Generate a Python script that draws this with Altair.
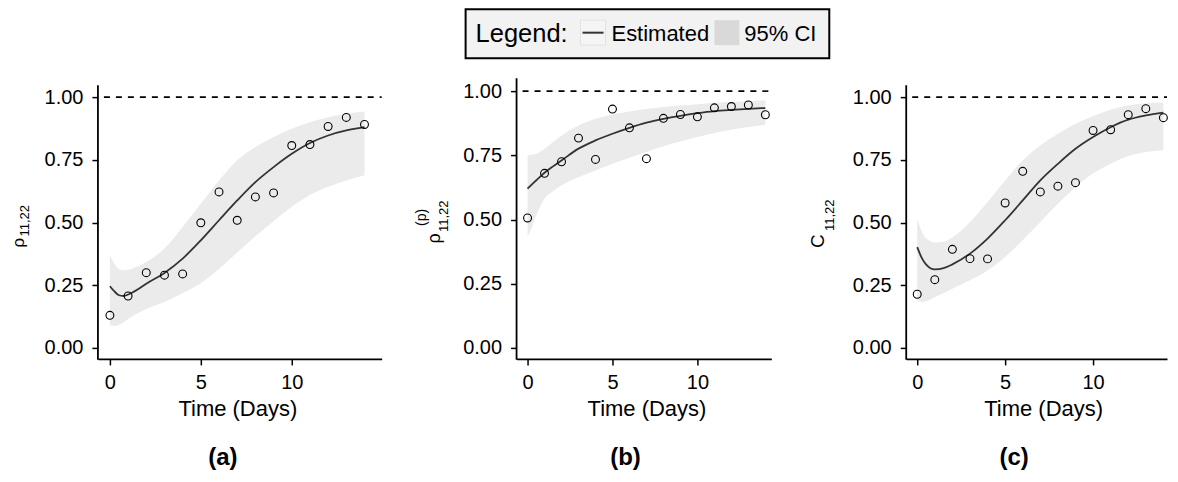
import altair as alt
import pandas as pd

FONT = "Liberation Sans"

# ---------------- data ----------------
DAYS = list(range(15))
T_CURVE = [0, 0.25, 0.5, 0.75, 1, 1.5, 2, 3, 4, 5, 6, 7, 8, 9, 10, 11, 12, 13, 14]

A_OBS = [0.130, 0.207, 0.300, 0.290, 0.295, 0.499, 0.622, 0.509, 0.602, 0.618,
         0.807, 0.811, 0.883, 0.919, 0.891]
A_EST = [0.246, 0.225, 0.210, 0.207, 0.213, 0.232, 0.256, 0.299, 0.356, 0.429,
         0.509, 0.588, 0.661, 0.721, 0.774, 0.817, 0.847, 0.867, 0.880]
A_LO = [0.090, 0.087, 0.092, 0.102, 0.115, 0.137, 0.155, 0.183, 0.218, 0.258,
        0.315, 0.380, 0.445, 0.505, 0.563, 0.610, 0.643, 0.668, 0.688]
A_HI = [0.369, 0.335, 0.315, 0.310, 0.312, 0.325, 0.343, 0.396, 0.482, 0.575,
        0.668, 0.748, 0.801, 0.841, 0.874, 0.900, 0.920, 0.934, 0.943]

B_OBS = [0.506, 0.680, 0.725, 0.817, 0.734, 0.930, 0.857, 0.737, 0.894, 0.909,
         0.900, 0.935, 0.940, 0.946, 0.908]
B_EST = [0.620, 0.636, 0.652, 0.667, 0.682, 0.707, 0.730, 0.776, 0.808, 0.834,
         0.857, 0.877, 0.892, 0.904, 0.914, 0.922, 0.927, 0.931, 0.934]
B_LO = [0.432, 0.470, 0.515, 0.552, 0.581, 0.610, 0.633, 0.665, 0.691, 0.717,
        0.741, 0.763, 0.785, 0.804, 0.821, 0.837, 0.850, 0.860, 0.869]
B_HI = [0.750, 0.752, 0.755, 0.765, 0.776, 0.802, 0.827, 0.866, 0.892, 0.909,
        0.921, 0.930, 0.938, 0.944, 0.949, 0.955, 0.958, 0.961, 0.964]

C_OBS = [0.214, 0.272, 0.393, 0.356, 0.355, 0.578, 0.704, 0.622, 0.645, 0.659,
         0.867, 0.870, 0.930, 0.954, 0.918]
C_EST = [0.402, 0.360, 0.333, 0.318, 0.313, 0.318, 0.333, 0.376, 0.436, 0.509,
         0.588, 0.668, 0.734, 0.794, 0.841, 0.880, 0.910, 0.927, 0.938]
C_LO = [0.190, 0.183, 0.186, 0.193, 0.203, 0.218, 0.236, 0.270, 0.309, 0.363,
        0.429, 0.502, 0.575, 0.641, 0.695, 0.734, 0.765, 0.781, 0.788]
C_HI = [0.515, 0.465, 0.437, 0.425, 0.420, 0.423, 0.440, 0.502, 0.582, 0.668,
        0.748, 0.807, 0.854, 0.894, 0.924, 0.950, 0.968, 0.976, 0.979]

X_TICKS = [0, 5, 10]
Y_TICKS = [0, 0.25, 0.5, 0.75, 1.0]
X_TITLE = "Time (Days)"
PANEL_LABELS = ["(a)", "(b)", "(c)"]
Y_MAIN = ["ρ", "ρ", "C"]
Y_SUB = ["11,22", "11,22", "11,22"]
Y_SUP = ["", "(p)", ""]
LEGEND_TITLE = "Legend:"
LEGEND_LABELS = ["Estimated", "95% CI"]

ONE = alt.Data(values=[{"k": 0}])

H = 281


def txt(text, x, y, size, angle=0, align="left", weight="normal", color="black"):
    kw = dict(font=FONT, fontSize=size, align=align, baseline="alphabetic",
              fontWeight=weight, color=color)
    if angle:
        kw["angle"] = angle
    return alt.Chart(ONE).mark_text(**kw).encode(
        x=alt.value(x), y=alt.value(y), text=alt.value(text))


def panel(i, obs, est, lo, hi, xdom, ydom, width, ytop, title_x, label_x,
          main_pos, main_size, sub_pos, sup_pos=None, extra=None):
    pts = pd.DataFrame({"t": DAYS, "v": obs})
    cur = pd.DataFrame({"t": T_CURVE, "est": est, "lo": lo, "hi": hi})
    xs = alt.Scale(domain=xdom, nice=False, zero=False)
    ys = alt.Scale(domain=ydom, nice=False, zero=False)
    xaxis = alt.Axis(values=X_TICKS, title=X_TITLE, titleX=title_x, titleY=57,
                     titleBaseline="alphabetic", titleAlign="center",
                     labelPadding=8)
    yaxis = alt.Axis(values=Y_TICKS, title=None, format=".2f", domain=False,
                     labelPadding=9)

    band = alt.Chart(cur).mark_area(color="#ebebeb", interpolate="monotone").encode(
        x=alt.X("t:Q", scale=xs, axis=xaxis),
        y=alt.Y("lo:Q", scale=ys, axis=yaxis),
        y2="hi:Q")
    ref = alt.Chart(ONE).mark_rule(color="black", strokeWidth=1.6,
                                   strokeDash=[6, 6], strokeDashOffset=-6).encode(
        y=alt.datum(1.0), x=alt.value(0), x2=alt.value(width))
    line = alt.Chart(cur).mark_line(color="#333333", strokeWidth=1.8,
                                    interpolate="monotone").encode(
        x=alt.X("t:Q", scale=xs, axis=xaxis),
        y=alt.Y("est:Q", scale=ys, axis=yaxis))
    dots = alt.Chart(pts).mark_point(shape="circle", filled=False, color="black",
                                     size=62, strokeWidth=1.1, opacity=1).encode(
        x=alt.X("t:Q", scale=xs, axis=xaxis),
        y=alt.Y("v:Q", scale=ys, axis=yaxis))
    yline = alt.Chart(ONE).mark_rule(color="black", strokeWidth=1.8).encode(
        x=alt.value(0), y=alt.value(ytop), y2=alt.value(H + 0.9))

    layers = [band, ref, line, dots, yline,
              txt(Y_MAIN[i], main_pos[0], main_pos[1], main_size, angle=270),
              txt(Y_SUB[i], sub_pos[0], sub_pos[1], 13, angle=270),
              txt(PANEL_LABELS[i], label_x, 387, 24, align="center", weight="bold")]
    if sup_pos is not None:
        layers.append(txt(Y_SUP[i], sup_pos[0], sup_pos[1], 14, angle=270))
    if extra:
        layers += extra
    return alt.layer(*layers).properties(width=width, height=H)


# legend drawn inside panel (b), above its plot area
legend = [
    alt.Chart(ONE).mark_rect(fill="#f2f2f2", stroke="black", strokeWidth=2).encode(
        x=alt.value(-51), x2=alt.value(313), y=alt.value(-69), y2=alt.value(-20)),
    txt(LEGEND_TITLE, -41, -36, 25.5),
    alt.Chart(ONE).mark_rect(fill="#f5f5f5", stroke="#e2e2e2", strokeWidth=1).encode(
        x=alt.value(64), x2=alt.value(89), y=alt.value(-58), y2=alt.value(-33)),
    alt.Chart(ONE).mark_rule(color="#333333", strokeWidth=2).encode(
        x=alt.value(66), x2=alt.value(87), y=alt.value(-45.5)),
    txt(LEGEND_LABELS[0], 95, -37, 22),
    alt.Chart(ONE).mark_rect(fill="#d9d9d9").encode(
        x=alt.value(198), x2=alt.value(223), y=alt.value(-58), y2=alt.value(-33)),
    txt(LEGEND_LABELS[1], 228, -37, 22),
]

pa = panel(0, A_OBS, A_EST, A_LO, A_HI, [-0.659, 14.945], [-0.0438, 1.0757], 284, 7,
           139.5, 125, (-74, 169.5), 17, (-69, 158.5))
pb = panel(1, B_OBS, B_EST, B_LO, B_HI, [-0.647, 14.353], [-0.0428, 1.0506], 255, 0,
           130, 109, (-77, 165.5), 18, (-69, 154), sup_pos=(-91, 148), extra=legend)
pc = panel(2, C_OBS, C_EST, C_LO, C_HI, [-0.625, 14.205], [-0.0438, 1.0757], 261, 7,
           137, 108, (-82, 170), 19, (-72, 153))

chart = alt.hconcat(pa, pb, pc, spacing=135, bounds="flush").properties(
    padding={"left": 2, "top": 0, "right": 0, "bottom": 0},
    background="white",
).configure_view(strokeOpacity=0).configure_axis(
    grid=False, domainColor="black", domainWidth=1.8, tickColor="black",
    tickWidth=1.5, tickSize=6, labelFont=FONT, labelFontSize=20,
    labelColor="black", titleFont=FONT, titleFontSize=22, titleColor="black",
    titleFontWeight="normal",
)

chart.save("out.html", embed_options={"renderer": "svg", "actions": False})
